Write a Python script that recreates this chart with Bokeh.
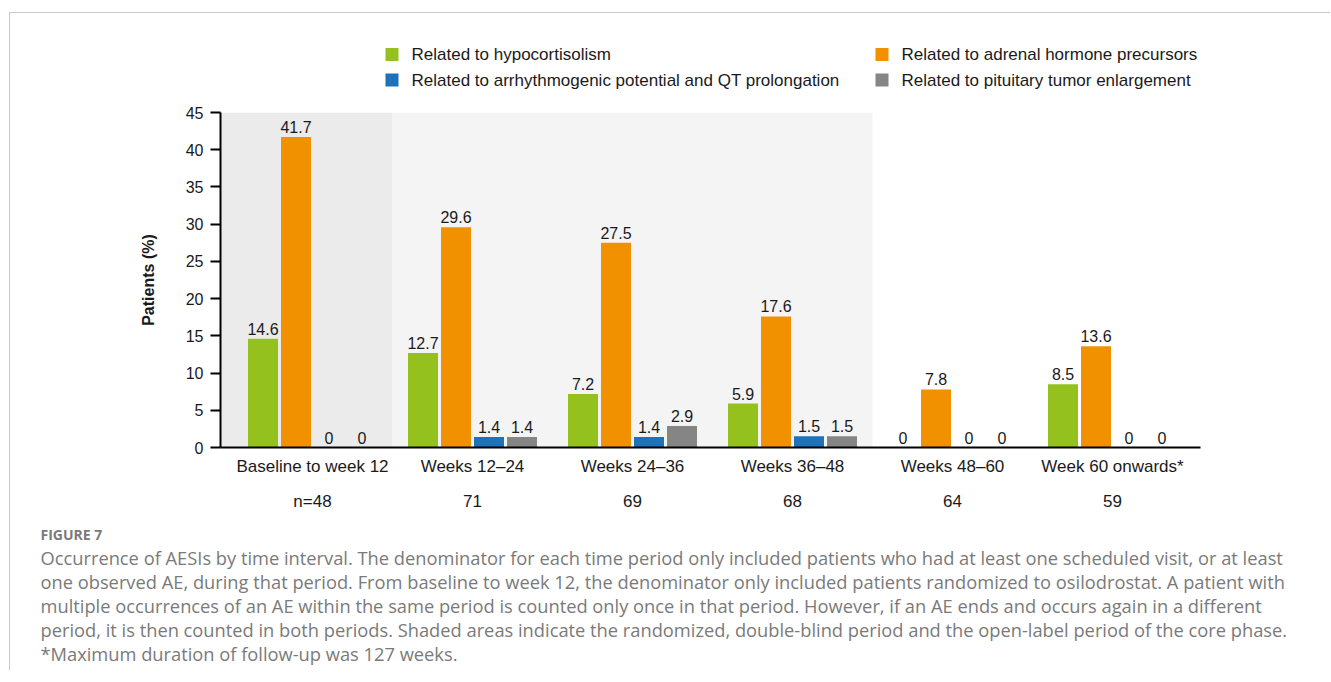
from bokeh.plotting import figure
from bokeh.layouts import column
from bokeh.models import (Range1d, FixedTicker, LabelSet, ColumnDataSource, LinearAxis)
from bokeh.core.properties import value
from bokeh.embed import file_html
from bokeh.resources import INLINE

# ---------------- data ----------------
categories = ["Baseline to week 12", "Weeks 12\u201324", "Weeks 24\u201336",
              "Weeks 36\u201348", "Weeks 48\u201360", "Week 60 onwards*"]
n_labels = ["n=48", "71", "69", "68", "64", "59"]
series_names = ["Related to hypocortisolism",
                "Related to adrenal hormone precursors",
                "Related to arrhythmogenic potential and QT prolongation",
                "Related to pituitary tumor enlargement"]
hypocortisolism = [14.6, 12.7, 7.2, 5.9, 0, 8.5]
adrenal_precursors = [41.7, 29.6, 27.5, 17.6, 7.8, 13.6]
arrhythmogenic_qt = [0, 1.4, 1.4, 1.5, 0, 0]
pituitary_tumor = [0, 1.4, 2.9, 1.5, 0, 0]
series_values = [hypocortisolism, adrenal_precursors, arrhythmogenic_qt, pituitary_tumor]
series_colors = ["#95C11F", "#F29100", "#1F71B8", "#858585"]
# shaded periods: randomized double-blind (first interval), open-label core phase (next three)
shade_spans = [(-0.575, 0.5), (0.5, 3.5)]
shade_colors = ["#EBEBEB", "#F4F4F4"]

caption_title = "FIGURE 7"
caption_lines = [
    "Occurrence of AESIs by time interval. The denominator for each time period only included patients who had at least one scheduled visit, or at least",
    "one observed AE, during that period. From baseline to week 12, the denominator only included patients randomized to osilodrostat. A patient with",
    "multiple occurrences of an AE within the same period is counted only once in that period. However, if an AE ends and occurs again in a different",
    "period, it is then counted in both periods. Shaded areas indicate the randomized, double-blind period and the open-label period of the core phase.",
    "*Maximum duration of follow-up was 127 weeks.",
]

# ---------------- layout ----------------
FONT = "Liberation Sans"
TXT = "#1a1a1a"
W = 1320
ORG_X, ORG_Y = 10, 13          # page position of content origin
H_LEG, H_MAIN, H_CAP = 87, 420, 150
TOP_MAIN = ORG_Y + H_LEG       # page y of main figure top
TOP_CAP = TOP_MAIN + H_MAIN
X0, X1 = -0.575, 5.55
Y0, Y1 = 0, 45
FR_L, FR_R, FR_T, FR_B = 220, 1200, 112, 447  # page px of the plot frame


def blank_fig(h):
    f = figure(width=W, height=h, x_range=Range1d(0, W), y_range=Range1d(h, 0),
               output_backend="svg", toolbar_location=None,
               x_axis_type=None, y_axis_type=None,
               min_border=0, min_border_left=0, min_border_right=0,
               min_border_top=0, min_border_bottom=0)
    f.frame_align = False
    f.outline_line_color = None
    f.xgrid.visible = False
    f.ygrid.visible = False
    f.border_fill_color = "white"
    f.background_fill_color = "white"
    return f


# ---------------- legend figure ----------------
leg = blank_fig(H_LEG)
leg_cols_page_x = [385, 875]
leg_rows_page_y = [54, 79.5]
legend_slots = [(0, 0), (1, 0), (0, 1), (1, 1)]  # (col, row) for each series
sq_x, sq_y, sq_c, tx_x, tx_y = [], [], [], [], []
for (c, r), col in zip(legend_slots, series_colors):
    sq_x.append(leg_cols_page_x[c] + 6.5 - ORG_X)
    sq_y.append(leg_rows_page_y[r] - ORG_Y)
    sq_c.append(col)
    tx_x.append(leg_cols_page_x[c] + 26 - ORG_X)
    tx_y.append(leg_rows_page_y[r] - ORG_Y)
leg.rect(x=sq_x, y=sq_y, width=13, height=13, fill_color=sq_c, line_color=None)
leg.text(x=tx_x, y=tx_y, text=series_names, text_font=value(FONT),
         text_font_size=value("17px"), text_color=TXT,
         text_baseline="middle", text_align="left")

# ---------------- main figure ----------------
p = figure(width=W, height=H_MAIN, x_range=Range1d(X0, X1), y_range=Range1d(Y0, Y1),
           output_backend="svg", toolbar_location=None,
           min_border_left=FR_L - ORG_X, min_border_right=ORG_X + W - FR_R,
           min_border_top=FR_T - TOP_MAIN, min_border_bottom=TOP_MAIN + H_MAIN - FR_B)
p.frame_align = False
p.outline_line_color = None
p.xgrid.visible = False
p.ygrid.visible = False
p.background_fill_color = "white"
p.border_fill_color = "white"

for (l, r), c in zip(shade_spans, shade_colors):
    p.quad(left=l, right=r, bottom=Y0, top=Y1, fill_color=c, line_color=None)

step = 33 / 160
bw = 30 / 160
offsets = [-1.5 * step, -0.5 * step, 0.5 * step, 1.5 * step]
lab_x, lab_y, lab_t = [], [], []
for vals, col, off in zip(series_values, series_colors, offsets):
    xs = [i + off for i in range(len(categories))]
    src = ColumnDataSource(dict(x=xs, top=vals))
    p.vbar(x="x", top="top", width=bw, bottom=0, source=src,
           fill_color=col, line_color=None)
    for x, v in zip(xs, vals):
        lab_x.append(x)
        lab_y.append(v)
        lab_t.append(f"{v:g}")

val_src = ColumnDataSource(dict(x=lab_x, y=lab_y, text=lab_t))
p.add_layout(LabelSet(x="x", y="y", text="text", source=val_src,
                      text_align="center", text_baseline="bottom", y_offset=4,
                      text_font=value(FONT), text_font_size=value("16px"),
                      text_color=TXT))

# x axis with category names
p.xaxis.ticker = FixedTicker(ticks=list(range(len(categories))))
p.xaxis.major_label_overrides = {i: c for i, c in enumerate(categories)}
p.xaxis.major_tick_out = 0
p.xaxis.major_tick_in = 0
p.xaxis.minor_tick_out = 0
p.xaxis.minor_tick_in = 0
p.xaxis.major_label_standoff = 9
p.xaxis.axis_line_width = 2
p.xaxis.axis_line_color = "black"
p.xaxis.major_label_text_font = FONT
p.xaxis.major_label_text_font_size = "17px"
p.xaxis.major_label_text_color = TXT

# second row of x labels: n per interval
ax_n = LinearAxis(ticker=FixedTicker(ticks=list(range(len(categories)))),
                  major_label_overrides={i: n for i, n in enumerate(n_labels)},
                  axis_line_color=None, major_tick_out=0, major_tick_in=0,
                  minor_tick_out=0, minor_tick_in=0, major_label_standoff=13,
                  major_label_text_font=FONT, major_label_text_font_size="17px",
                  major_label_text_color=TXT)
p.add_layout(ax_n, "below")

p.yaxis.ticker = FixedTicker(ticks=list(range(0, 46, 5)))
p.yaxis.major_tick_out = 10
p.yaxis.major_tick_in = 0
p.yaxis.minor_tick_out = 0
p.yaxis.minor_tick_in = 0
p.yaxis.major_tick_line_width = 2
p.yaxis.major_tick_line_color = "black"
p.yaxis.axis_line_width = 2
p.yaxis.axis_line_color = "black"
p.yaxis.major_label_standoff = 7
p.yaxis.major_label_text_font = FONT
p.yaxis.major_label_text_font_size = "16px"
p.yaxis.major_label_text_color = TXT
p.yaxis.axis_label = "Patients (%)"
p.yaxis.axis_label_text_font = FONT
p.yaxis.axis_label_text_font_size = "16px"
p.yaxis.axis_label_text_font_style = "bold"
p.yaxis.axis_label_text_color = TXT
p.yaxis.axis_label_standoff = 26

# ---------------- caption figure ----------------
cap = blank_fig(H_CAP)
cap_x = 40 - ORG_X
cap.text(x=[cap_x], y=[534 - TOP_CAP], text=[caption_title], text_font=value("Open Sans"),
         text_font_size=value("14px"), text_font_style="bold", text_color="#7a7a7a",
         text_baseline="middle", text_align="left")
cap.text(x=[cap_x] * len(caption_lines),
         y=[557 + 24 * k - TOP_CAP for k in range(len(caption_lines))],
         text=caption_lines, text_font=value("Open Sans"),
         text_font_size=value("18.3px"), text_color="#7a7a7a",
         text_baseline="middle", text_align="left")

lay = column(leg, p, cap, spacing=0)
lay.styles = {"margin-top": "12px", "margin-left": "9px",
              "border-top": "1px solid #c8c8c8", "border-left": "1px solid #c8c8c8"}

open("out.html", "w").write(file_html(lay, INLINE))
